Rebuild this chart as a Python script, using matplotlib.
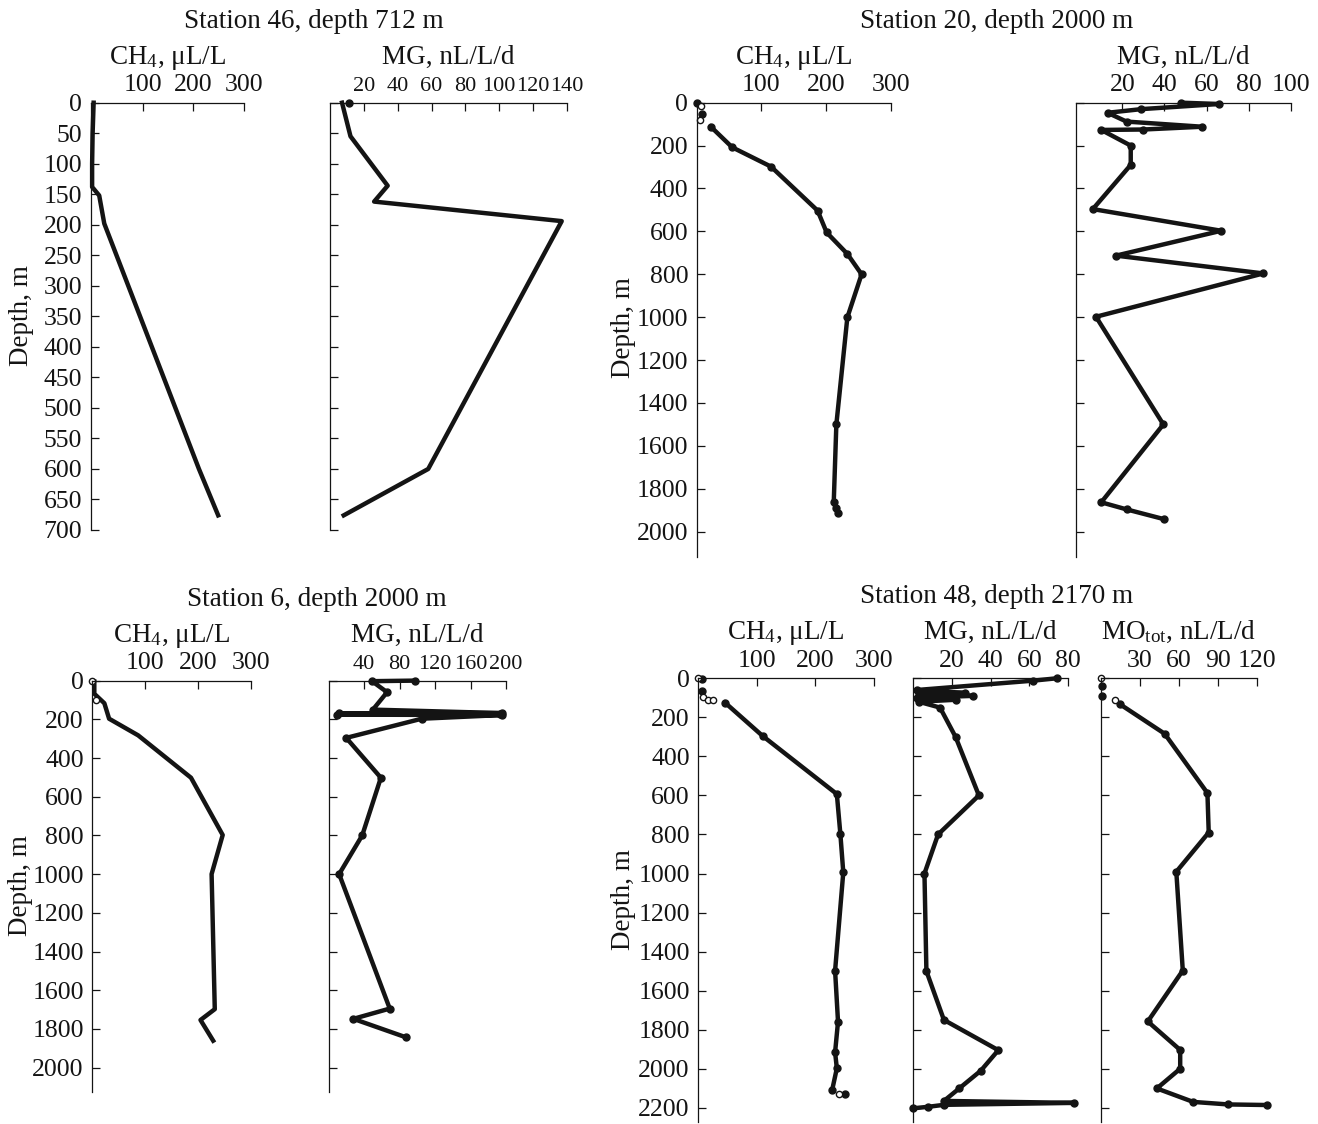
import matplotlib
matplotlib.use('Agg')
import matplotlib.pyplot as plt

plt.rcParams['font.family'] = ['Liberation Serif', 'DejaVu Serif']
plt.rcParams['mathtext.fontset'] = 'custom'
plt.rcParams['mathtext.rm'] = 'Liberation Serif'

W, H = 1318, 1124
INK = '#141414'
TICK_FS = 18.5
TEXT_FS = 19.5

# ---- Station 46 ----
st46_ch4_depth = [0, 50, 100, 138, 152, 198, 600, 676]
st46_ch4 = [3, 1, 0, 0, 14, 24, 211, 249]
st46_mg_depth = [0, 55, 136, 162, 194, 600, 676]
st46_mg = [7, 12, 34, 26, 137, 58, 8]
st46_mg_dot = ([11], [0])

# ---- Station 20 ----
st20_ch4_depth = [112, 208, 298, 503, 605, 705, 800, 1001, 1500, 1860, 1891, 1915]
st20_ch4 = [22, 55, 115, 187, 201, 233, 255, 233, 216, 212, 215, 219]
st20_ch4_dots = ([0, 8], [0, 53])
st20_ch4_open = ([7, 5], [14, 80])
st20_mg_depth = [0, 6, 30, 47, 88, 112, 125, 127, 200, 290, 496, 597, 713, 796,
                 998, 1500, 1863, 1896, 1942]
st20_mg = [48, 66, 29, 13, 22, 58, 30, 10, 24, 24, 6, 67, 17, 87, 7.5, 39.5, 10, 22, 40]

# ---- Station 6 ----
st6_ch4_depth = [5, 68, 117, 197, 283, 502, 798, 1000, 1698, 1754, 1861]
st6_ch4 = [4, 4, 23, 32, 87, 187, 247, 226, 232, 205, 229]
st6_ch4_open = ([0, 8], [0, 99])
st6_mg_depth = [0, 3, 60, 150, 168, 170, 173, 176, 178, 197, 296, 502, 800, 1000,
                1695, 1748, 1843]
st6_mg = [98, 49, 66, 50, 195, 12, 193, 10, 195, 105, 20, 59, 38, 12, 69, 28, 87]

# ---- Station 48 ----
st48_ch4_depth = [125, 295, 593, 797, 994, 1498, 1759, 1916, 1998, 2109]
st48_ch4 = [46, 110, 237, 243, 248, 234, 239, 234, 237, 229]
st48_ch4_dots = ([6, 6, 251], [5, 63, 2131])
st48_ch4_open = ([0, 9, 17, 26, 241], [0, 94, 111, 111, 2131])
st48_mg_depth = [0, 12, 60, 75, 80, 90, 100, 110, 120, 150, 300, 600, 800, 1000,
                 1500, 1750, 1905, 2010, 2100, 2165, 2175, 2185, 2195, 2203]
st48_mg = [74, 62, 2, 27, 3, 31, 2, 22, 3, 14, 22, 34, 13, 6, 7, 16, 44, 35, 24,
           16, 83, 16, 8, 0]
st48_mo_depth = [133, 284, 588, 790, 991, 1497, 1758, 1904, 2000, 2101, 2170, 2183, 2186]
st48_mo = [14.6, 49, 82, 83, 58, 63, 36, 61, 61, 43, 71, 98, 128]
st48_mo_dots = ([1, 0.5], [42, 90])
st48_mo_open = ([0, 11], [0, 111])

fig = plt.figure(figsize=(W / 100, H / 100), dpi=100)


def make_axes(x0, x1, ytop, ybot, xlim, xticks, ylim, yticks, ylabels, xfs=TICK_FS):
    ax = fig.add_axes([x0 / W, 1 - ybot / H, (x1 - x0) / W, (ybot - ytop) / H])
    ax.set_xlim(*xlim)
    ax.set_ylim(ylim, 0)
    for side in ('right', 'bottom'):
        ax.spines[side].set_visible(False)
    for side in ('left', 'top'):
        ax.spines[side].set_linewidth(0.9)
        ax.spines[side].set_color(INK)
    ax.xaxis.tick_top()
    ax.set_xticks(xticks)
    ax.set_yticks(yticks)
    if not ylabels:
        ax.set_yticklabels([])
    ax.tick_params(axis='both', direction='in', length=6, width=0.9, color=INK,
                   labelsize=TICK_FS, labelcolor=INK)
    ax.tick_params(axis='x', pad=4.5, labelsize=xfs)
    ax.tick_params(axis='y', pad=6)
    ax.patch.set_alpha(0)
    return ax


def profile(ax, vals, depth, marker=True):
    ax.plot(vals, depth, color=INK, lw=3.2, solid_joinstyle='round',
            marker='o' if marker else None, ms=5, clip_on=False)


def dots(ax, pts, hollow=False):
    if hollow:
        ax.plot(pts[0], pts[1], 'o', ms=4.5, mfc='white', mec=INK, mew=1.0, clip_on=False)
    else:
        ax.plot(pts[0], pts[1], 'o', ms=5, color=INK, clip_on=False)


def xlabel(text, x0, x1, spine_y):
    fig.text((x0 + x1) / 2 / W, 1 - (spine_y - 39) / H, text, ha='center',
             va='baseline', fontsize=TEXT_FS, color=INK)


def title(text, xc, spine_y):
    fig.text(xc / W, 1 - (spine_y - 75) / H, text, ha='center', va='baseline',
             fontsize=TEXT_FS, color=INK)


def ylabel(xc, yc):
    fig.text(xc / W, 1 - yc / H, 'Depth, m', rotation=90, ha='center', va='center',
             fontsize=TEXT_FS, color=INK)


CH4 = r'$\mathregular{CH_4}$, μL/L'
MG = 'MG, nL/L/d'
MO = r'$\mathregular{MO_{tot}}$, nL/L/d'

# Station 46
ax = make_axes(90.6, 244, 102.7, 530, (-3, 300), [100, 200, 300], 700,
               list(range(0, 701, 50)), True)
profile(ax, st46_ch4, st46_ch4_depth, marker=False)
xlabel(CH4, 90.6, 244, 102.7)
ax = make_axes(330.2, 566.8, 102.7, 530, (0, 140), list(range(20, 141, 20)), 700,
               list(range(0, 701, 50)), False, xfs=16)
profile(ax, st46_mg, st46_mg_depth, marker=False)
dots(ax, st46_mg_dot)
xlabel(MG, 330.2, 566.8, 102.7)
title('Station 46, depth 712 m', 314, 102.7)
ylabel(21.7, 316)

# Station 20
ax = make_axes(696.6, 890.7, 102.7, 557, (0, 300), [100, 200, 300], 2118,
               list(range(0, 2001, 200)), True)
profile(ax, st20_ch4, st20_ch4_depth)
dots(ax, st20_ch4_dots)
dots(ax, st20_ch4_open, hollow=True)
xlabel(CH4, 696.6, 890.7, 102.7)
ax = make_axes(1076, 1290.7, 102.7, 557, (-2, 100), list(range(20, 101, 20)), 2118,
               list(range(0, 2001, 200)), False)
profile(ax, st20_mg, st20_mg_depth)
xlabel(MG, 1076, 1290.7, 102.7)
title('Station 20, depth 2000 m', 997, 102.7)
ylabel(623, 328)

# Station 6
ax = make_axes(92.2, 250.7, 680.6, 1091.6, (0, 300), [100, 200, 300], 2124,
               list(range(0, 2001, 200)), True)
profile(ax, st6_ch4, st6_ch4_depth, marker=False)
dots(ax, st6_ch4_open, hollow=True)
xlabel(CH4, 92.2, 250.7, 680.6)
ax = make_axes(328.5, 506, 680.6, 1091.6, (0, 200), list(range(40, 201, 40)), 2124,
               list(range(0, 2001, 200)), False, xfs=16)
profile(ax, st6_mg, st6_mg_depth)
xlabel(MG, 328.5, 506, 680.6)
title('Station 6, depth 2000 m', 317, 680.6)
ylabel(20.7, 886)

# Station 48
ax = make_axes(698.2, 873.7, 678.3, 1122.4, (0, 300), [100, 200, 300], 2275,
               list(range(0, 2201, 200)), True)
profile(ax, st48_ch4, st48_ch4_depth)
dots(ax, st48_ch4_dots)
dots(ax, st48_ch4_open, hollow=True)
xlabel(CH4, 698.2, 873.7, 678.3)
ax = make_axes(912.8, 1068.3, 678.3, 1122.4, (0, 80), [20, 40, 60, 80], 2275,
               list(range(0, 2201, 200)), False)
profile(ax, st48_mg, st48_mg_depth)
xlabel(MG, 912.8, 1068.3, 678.3)
ax = make_axes(1101.1, 1256.7, 678.3, 1122.4, (0, 120), [30, 60, 90, 120], 2275,
               list(range(0, 2201, 200)), False)
profile(ax, st48_mo, st48_mo_depth)
dots(ax, st48_mo_dots)
dots(ax, st48_mo_open, hollow=True)
xlabel(MO, 1101.1, 1256.7, 678.3)
title('Station 48, depth 2170 m', 997, 678.3)
ylabel(623, 900)

fig.savefig('out.png', dpi=100)
